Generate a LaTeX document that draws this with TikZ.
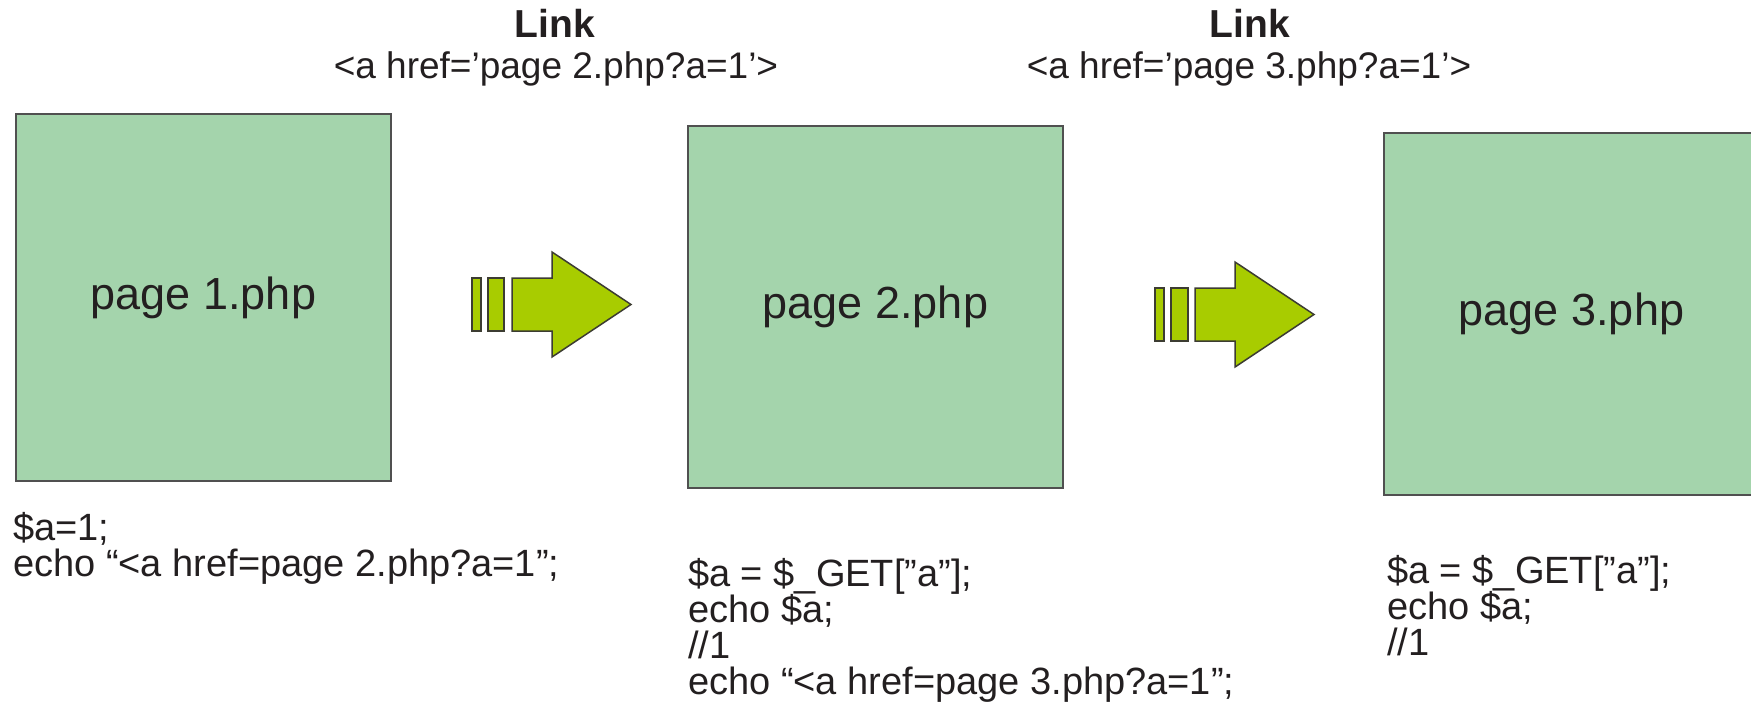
\documentclass[tikz,border=0pt]{standalone}
\usepackage{fontspec}
\setmainfont{Liberation Sans}
\definecolor{boxfill}{HTML}{A4D4AC}
\definecolor{boxline}{HTML}{505050}
\definecolor{arrfill}{HTML}{A8CC00}
\definecolor{arrline}{HTML}{3C3C32}
\definecolor{txt}{HTML}{231F20}
\begin{document}
\begin{tikzpicture}[x=1pt,y=-1pt,
  pagebox/.style={draw=boxline, fill=boxfill, line width=2pt, minimum width=375pt,
    minimum height=365pt, inner sep=0pt, anchor=north west,
    font=\fontsize{45}{54}\selectfont, text=txt},
  code/.style={anchor=base west, inner sep=0pt, font=\fontsize{38}{44}\selectfont, text=txt},
  linkt/.style={anchor=base, inner sep=0pt, font=\fontsize{37}{44}\selectfont, text=txt},
  linkh/.style={anchor=base, inner sep=0pt, font=\fontsize{39}{44}\selectfont\bfseries, text=txt},
  blockarrow/.style={draw=arrline, fill=arrfill, line width=1.5pt, line join=miter}]
\useasboundingbox (0,0) rectangle (1751,704);

% pages
\node[pagebox, minimum height=367pt] (p1) at (15,113) {page 1.php};
\node[pagebox, minimum height=362pt] (p2) at (687,125) {page 2.php};
\node[pagebox, minimum height=362pt] (p3) at (1383,132) {page 3.php};

% link labels
\node[linkh] (l1a) at (555,37) {Link};
\node[linkt] (l1b) at (556,78) {<a href=’page 2.php?a=1’>};
\node[linkh] (l2a) at (1250,37) {Link};
\node[linkt] (l2b) at (1249,78) {<a href=’page 3.php?a=1’>};

% block arrows
\draw[blockarrow] (472,278) rectangle (481,331);
\draw[blockarrow] (488,278) rectangle (504,331);
\draw[blockarrow] (512,278) -- (552,278) -- (552,252) -- (631,304.5) -- (552,357)
  -- (552,331) -- (512,331) -- cycle;
\draw[blockarrow] (1155,288) rectangle (1164,341);
\draw[blockarrow] (1171,288) rectangle (1188,341);
\draw[blockarrow] (1195,288) -- (1235,288) -- (1235,262) -- (1314,314.5) -- (1235,367)
  -- (1235,341) -- (1195,341) -- cycle;

% code under page 1
\node[code] (c1a) at (13,540) {\$a=1;};
\node[code] (c1b) at (13,576) {echo “<a href=page 2.php?a=1”;};

% code under page 2
\node[code] (c2a) at (688,586) {\$a = \$\_GET[”a”];};
\node[code] (c2b) at (688,622) {echo \$a;};
\node[code] (c2c) at (688,658) {//1};
\node[code] (c2d) at (688,694) {echo “<a href=page 3.php?a=1”;};

% code under page 3
\node[code] (c3a) at (1387,583) {\$a = \$\_GET[”a”];};
\node[code] (c3b) at (1387,619) {echo \$a;};
\node[code] (c3c) at (1387,655) {//1};
\end{tikzpicture}
\end{document}
